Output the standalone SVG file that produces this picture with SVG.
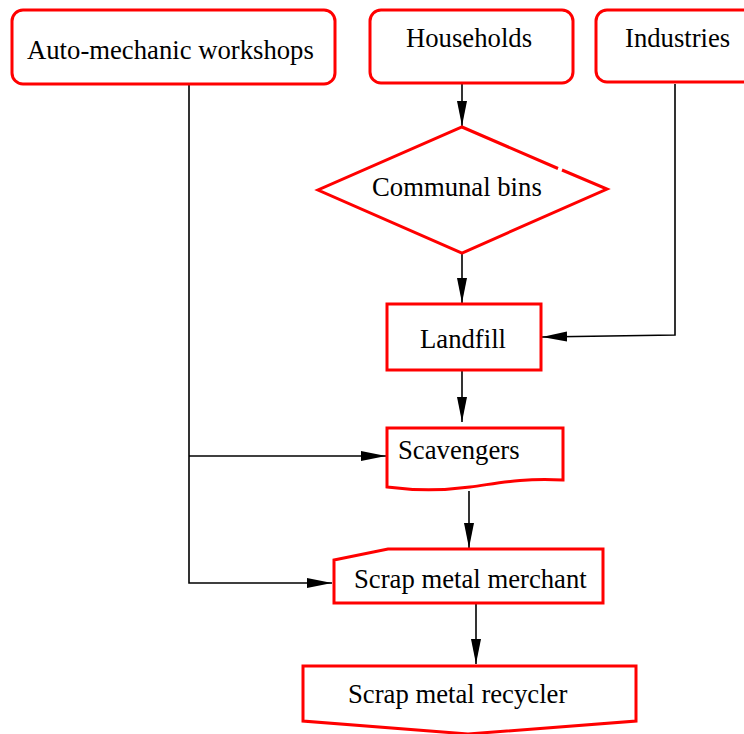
<svg xmlns="http://www.w3.org/2000/svg" width="744" height="734" viewBox="0 0 744 734">
<style>
.node{fill:#fff;stroke:#ff0000;stroke-width:3;stroke-linejoin:miter}
.lbl{font-family:"Liberation Serif","Times New Roman",serif;font-size:26.7px;fill:#000}
.edge{fill:none;stroke:#000;stroke-width:1.6}
</style>
<defs>
<marker id="ah" markerUnits="userSpaceOnUse" markerWidth="26" markerHeight="12" refX="25" refY="5" orient="auto">
<path d="M0,0 L25,5 L0,10 Z" fill="#000"/>
</marker>
</defs>
<rect width="744" height="734" fill="#fff"/>
<g id="connectors">
<path class="edge" d="M462,84 V126" marker-end="url(#ah)"/>
<path class="edge" d="M462,254 V303" marker-end="url(#ah)"/>
<path class="edge" d="M675,84 V335 L542,337" marker-end="url(#ah)"/>
<path class="edge" d="M462,371 V422" marker-end="url(#ah)"/>
<path class="edge" d="M189,84 V583 H332" marker-end="url(#ah)"/>
<path class="edge" d="M189,456 H386" marker-end="url(#ah)"/>
<path class="edge" d="M469,491 V548" marker-end="url(#ah)"/>
<path class="edge" d="M476,604 V664" marker-end="url(#ah)"/>
</g>
<g id="auto">
<rect class="node" x="12" y="10" width="323" height="74" rx="11"/>
<text class="lbl" x="27" y="59">Auto-mechanic workshops</text>
</g>
<g id="households">
<rect class="node" x="370" y="10" width="203" height="73" rx="11"/>
<text class="lbl" x="406" y="47">Households</text>
</g>
<g id="industries">
<rect class="node" x="596" y="10" width="160" height="72" rx="11"/>
<text class="lbl" x="625" y="47">Industries</text>
</g>
<g id="communal">
<path class="node" d="M558,168.5 L462,127 L318,190 L462,253 L607,189 L562,170"/>
<text class="lbl" x="372" y="196">Communal bins</text>
</g>
<g id="landfill">
<rect class="node" x="387" y="304" width="154" height="66"/>
<text class="lbl" x="420" y="348">Landfill</text>
</g>
<g id="scavengers">
<path class="node" d="M387,428 H563 V480 C520,478 500,483 470,487 C440,491 410,490 387,487 Z"/>
<text class="lbl" x="398" y="459">Scavengers</text>
</g>
<g id="merchant">
<path class="node" d="M334,560 L388,549 H603 V603 H334 Z"/>
<text class="lbl" x="354" y="588">Scrap metal merchant</text>
</g>
<g id="recycler">
<path class="node" d="M303,666 H636 V721 L468,734 L303,721 Z"/>
<text class="lbl" x="348" y="703">Scrap metal recycler</text>
</g>
</svg>
